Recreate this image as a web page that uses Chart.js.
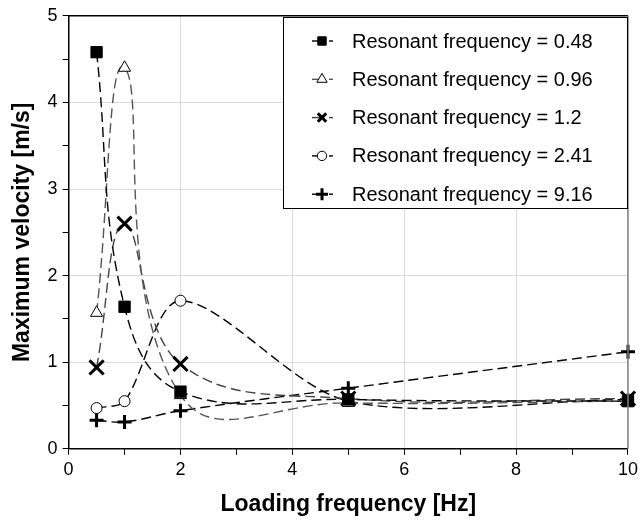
<!DOCTYPE html>
<html>
<head>
<meta charset="utf-8">
<script src="https://cdn.jsdelivr.net/npm/chart.js@4.4.0/dist/chart.umd.min.js"></script>
<style>
  html, body { margin: 0; padding: 0; background: #fff; }
  #wrap { width: 642px; height: 520px; }
</style>
</head>
<body>
<div id="wrap"><canvas id="chart" width="642" height="520"></canvas></div>
<script>
// Loading frequencies [Hz]
const loadingFreq = [0.5, 1, 2, 5, 10];

// Maximum velocity [m/s] for each resonant frequency
const res048 = [4.58, 1.64, 0.66, 0.57, 0.55];
const res096 = [1.57, 4.40, 0.62, 0.53, 0.55];
const res12  = [0.94, 2.60, 0.98, 0.58, 0.58];
const res241 = [0.47, 0.55, 1.71, 0.55, 0.57];
const res916 = [0.33, 0.31, 0.44, 0.70, 1.12];

const seriesLabels = [
    "Resonant frequency = 0.48",
    "Resonant frequency = 0.96",
    "Resonant frequency = 1.2",
    "Resonant frequency = 2.41",
    "Resonant frequency = 9.16"
];

const FONT = "'Liberation Sans', Arial, sans-serif";

function toPoints(ys) {
    return loadingFreq.map((x, i) => ({ x: x, y: ys[i] }));
}

// style for each series
function makeSet(label, ys, style, fill, lineColor, radius, width, tension) {
    return {
        label: label,
        data: toPoints(ys),
        borderColor: lineColor,
        borderWidth: 1.4,
        borderDash: [10, 5],
        tension: tension,
        fill: false,
        clip: false,
        pointStyle: style,
        pointRadius: radius,
        pointBorderColor: "#000",
        pointBackgroundColor: fill,
        pointBorderWidth: width
    };
}

const datasets = [
    makeSet(seriesLabels[0], res048, "rect", "#000", "#000", 8, 1, 0.4),
    makeSet(seriesLabels[1], res096, "triangle", "#fff", "#555", 7, 1, 0.45),
    makeSet(seriesLabels[2], res12, "crossRot", "#000", "#444", 10, 3, 0.4),
    makeSet(seriesLabels[3], res241, "circle", "#fff", "#000", 5.5, 1, 0.3),
    makeSet(seriesLabels[4], res916, "cross", "#000", "#000", 7, 3, 0.4)
];

// draws the plot frame (top / right) and the legend box inside the plot
const framePlugin = {
    id: "frame",
    afterDraw(chart) {
        const ctx = chart.ctx;
        const a = chart.chartArea;
        ctx.save();
        ctx.lineWidth = 1.5;
        ctx.strokeStyle = "#000";
        ctx.beginPath();
        ctx.moveTo(a.left, a.top);
        ctx.lineTo(a.right, a.top);
        ctx.stroke();
        ctx.strokeStyle = "#808080";
        ctx.beginPath();
        ctx.moveTo(a.right, a.top);
        ctx.lineTo(a.right, a.bottom);
        ctx.stroke();

        // legend
        const boxL = 283, boxT = 17, boxR = a.right, boxB = 209;
        ctx.fillStyle = "#fff";
        ctx.fillRect(boxL, boxT, boxR - boxL, boxB - boxT);
        ctx.strokeStyle = "#000";
        ctx.lineWidth = 1;
        ctx.strokeRect(boxL + 0.5, boxT + 0.5, boxR - boxL - 1, boxB - boxT - 1);

        ctx.font = "20px " + FONT;
        ctx.textBaseline = "middle";
        ctx.textAlign = "left";
        chart.data.datasets.forEach((ds, i) => {
            const y = 41 + i * 38.3;
            const mx = 322;
            ctx.strokeStyle = ds.borderColor;
            ctx.lineWidth = 1.4;
            ctx.setLineDash([]);
            ctx.beginPath();
            ctx.moveTo(mx - 10, y);
            ctx.lineTo(mx, y);
            ctx.stroke();
            ctx.beginPath();
            ctx.moveTo(mx + 7, y);
            ctx.lineTo(mx + 11, y);
            ctx.stroke();
            ctx.fillStyle = ds.pointBackgroundColor;
            ctx.strokeStyle = "#000";
            ctx.lineWidth = ds.pointBorderWidth;
            Chart.helpers.drawPoint(ctx, {
                pointStyle: ds.pointStyle,
                rotation: 0,
                radius: Math.min(ds.pointRadius, 7) * 0.85,
                borderWidth: ds.pointBorderWidth
            }, mx, y);
            ctx.fillStyle = "#000";
            ctx.fillText(ds.label, 352, y + 1);
        });
        ctx.restore();
    }
};

new Chart(document.getElementById("chart"), {
    type: "line",
    data: { datasets: datasets },
    options: {
        responsive: false,
        animation: false,
        layout: { padding: { top: 15, right: 14, left: 7, bottom: 0 } },
        plugins: {
            legend: { display: false },
            tooltip: { enabled: false }
        },
        scales: {
            x: {
                type: "linear",
                min: 0,
                max: 10,
                ticks: {
                    stepSize: 1,
                    color: "#000",
                    font: { family: FONT, size: 18 },
                    maxRotation: 0,
                    autoSkip: false,
                    padding: 4,
                    callback: (v) => (v % 2 === 0 ? v : "")
                },
                grid: {
                    color: (c) => (c.tick && c.tick.value % 2 === 0 && c.tick.value !== 0 ? "#d9d9d9" : "rgba(0,0,0,0)"),
                    tickColor: "#000",
                    tickLength: 6,
                    lineWidth: 1
                },
                border: { color: "#000", width: 1.5 },
                title: {
                    display: true,
                    text: "Loading frequency [Hz]",
                    color: "#000",
                    font: { family: FONT, size: 23, weight: "bold" },
                    padding: { top: 6, bottom: 2 }
                }
            },
            y: {
                min: 0,
                max: 5,
                ticks: {
                    stepSize: 0.5,
                    color: "#000",
                    font: { family: FONT, size: 18 },
                    autoSkip: false,
                    padding: 5,
                    callback: (v) => (Number.isInteger(v) ? v : "")
                },
                grid: {
                    color: (c) => (c.tick && Number.isInteger(c.tick.value) && c.tick.value !== 0 ? "#d9d9d9" : "rgba(0,0,0,0)"),
                    tickColor: "#000",
                    tickLength: 6,
                    lineWidth: 1
                },
                border: { color: "#000", width: 1.5 },
                title: {
                    display: true,
                    text: "Maximum velocity [m/s]",
                    color: "#000",
                    font: { family: FONT, size: 23, weight: "bold" },
                    padding: { top: 2, bottom: 6 }
                }
            }
        }
    },
    plugins: [framePlugin]
});
</script>
</body>
</html>
